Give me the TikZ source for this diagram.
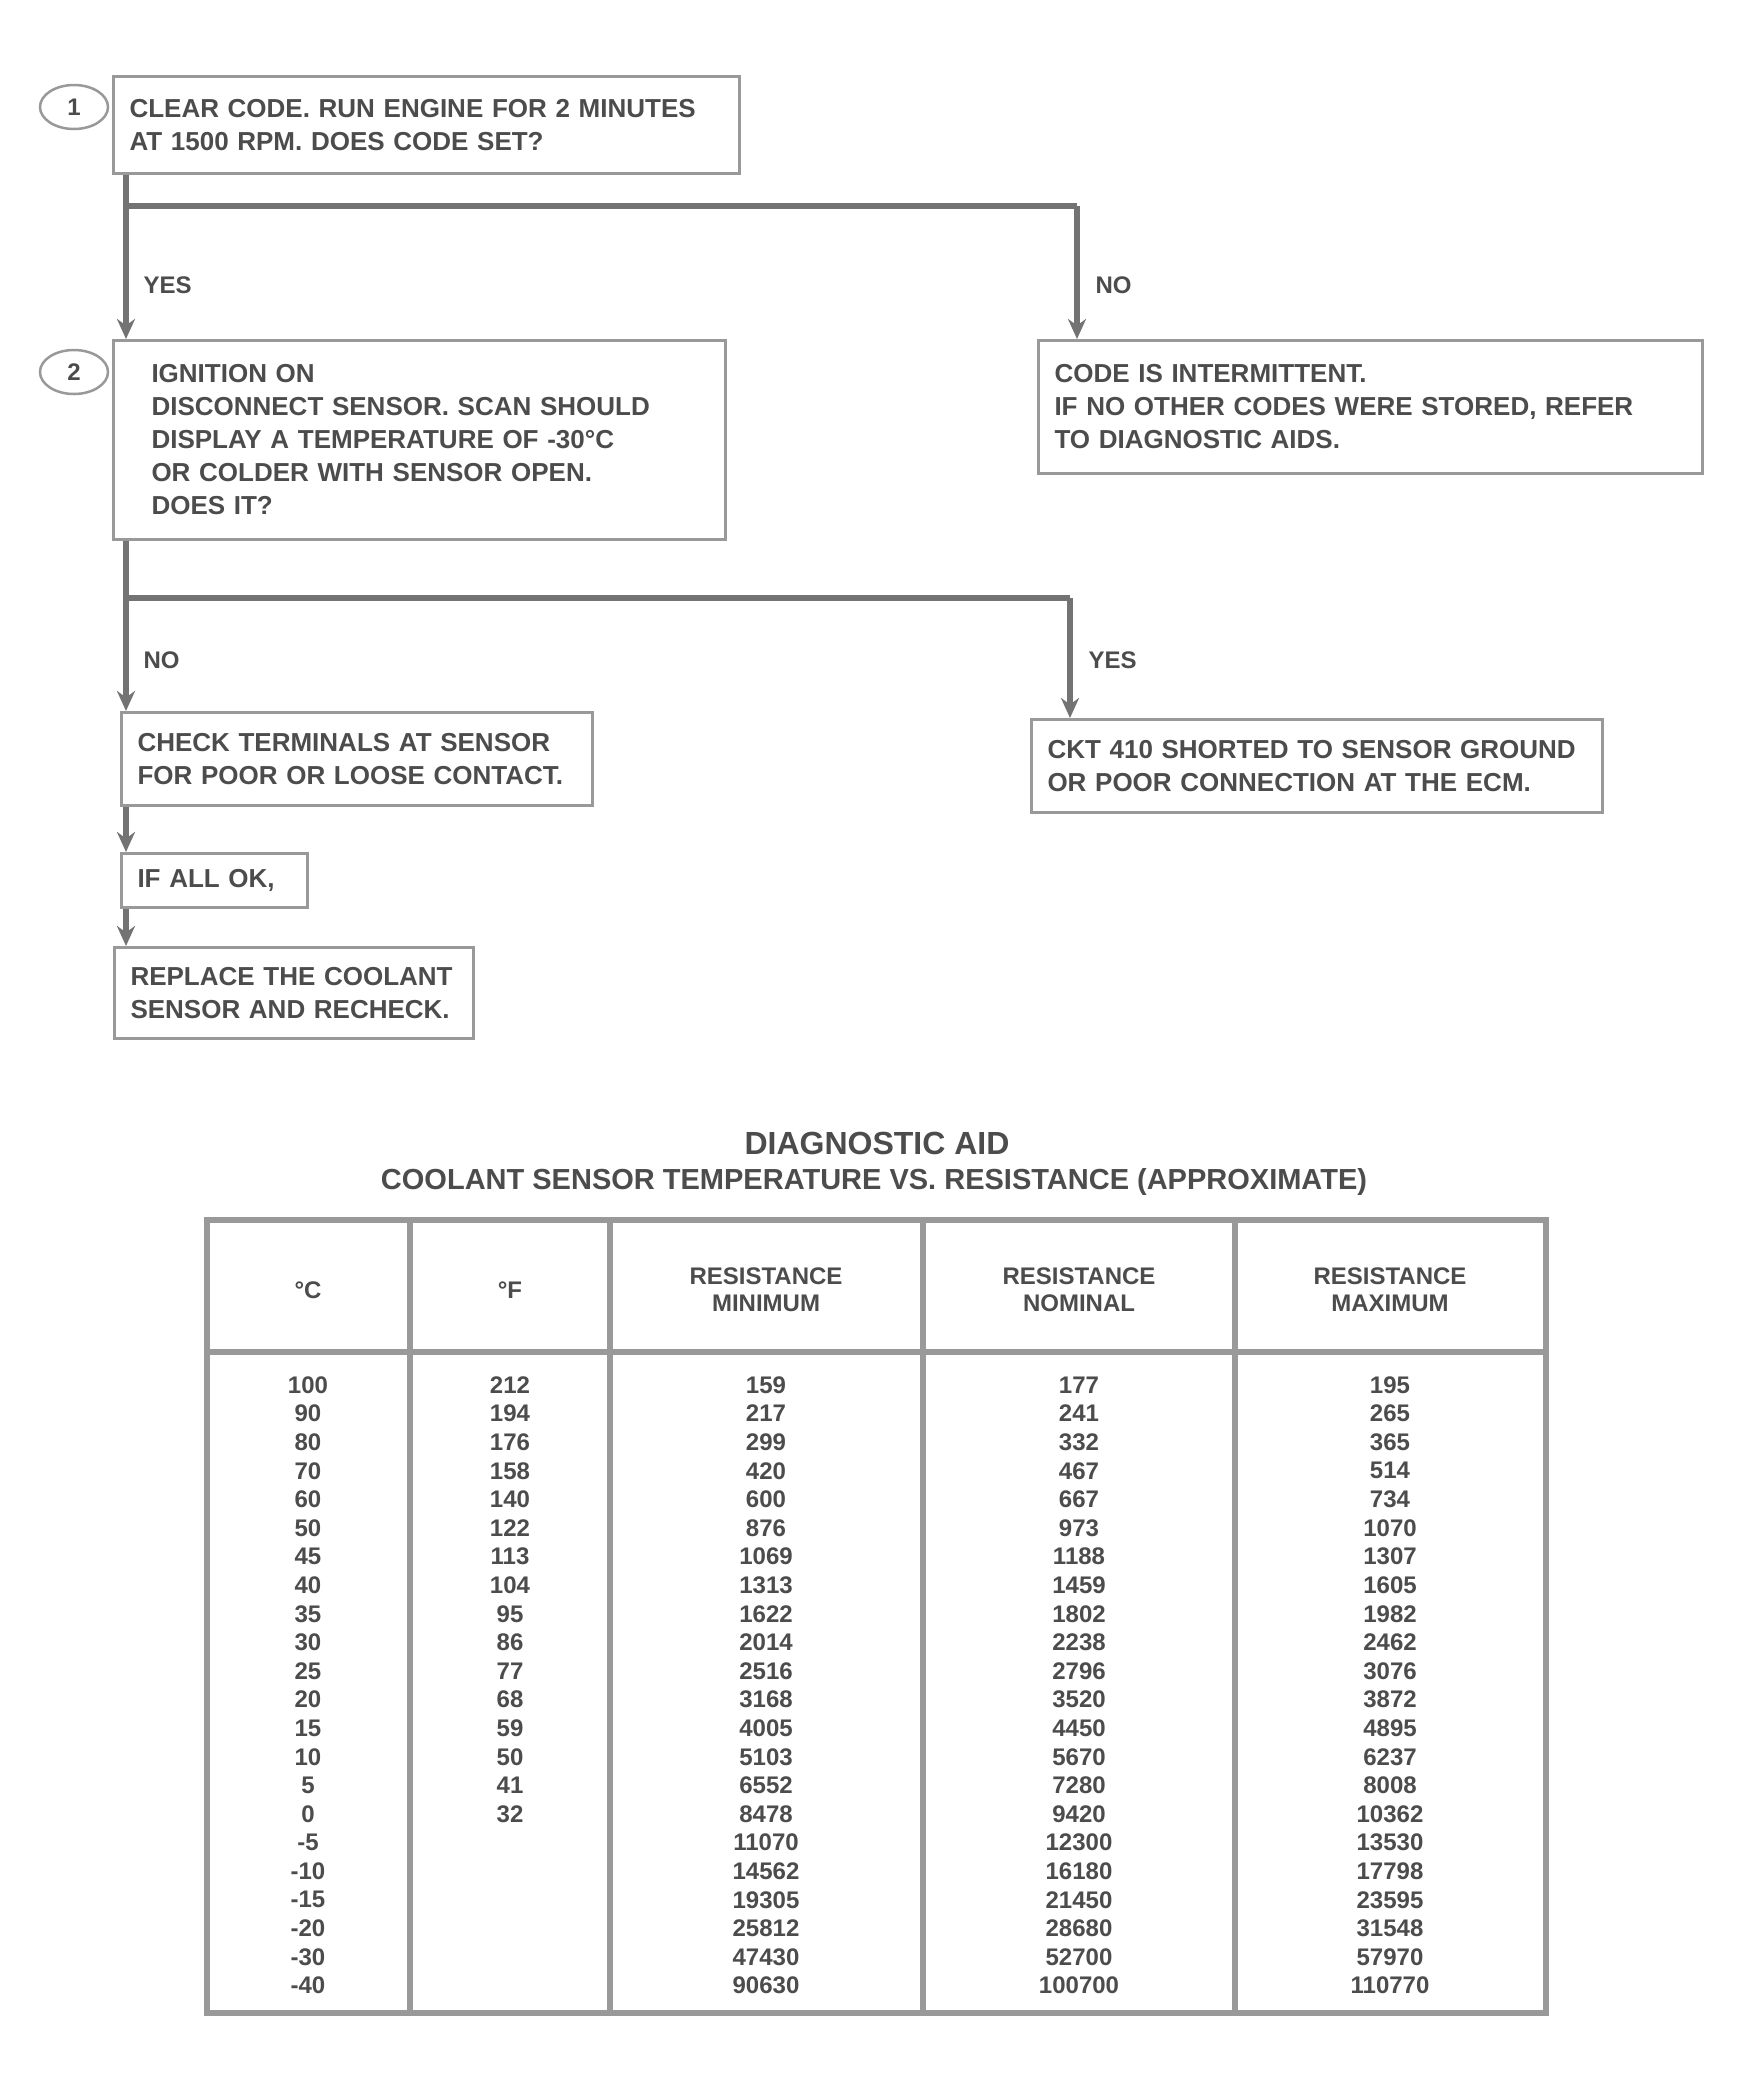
\documentclass[tikz,border=0pt]{standalone}
\usepackage{fontspec}
\setmainfont{Liberation Sans}
\usetikzlibrary{positioning,arrows.meta,shapes.geometric}

\definecolor{inkgray}{gray}{0.3}
\definecolor{boxgray}{gray}{0.6}
\definecolor{linegray}{gray}{0.45}

\begin{document}
\begin{tikzpicture}[x=1pt,y=-1pt,
	stepbox/.style={draw=boxgray,line width=3pt,text=inkgray,align=left,anchor=north west,
		inner xsep=16pt,font=\fontsize{26}{33}\selectfont\bfseries},
	circnum/.style={ellipse,draw=boxgray,line width=2.5pt,text=inkgray,inner sep=2pt,
		minimum width=68pt,minimum height=44pt,font=\fontsize{24}{24}\selectfont\bfseries},
	answer/.style={text=inkgray,anchor=west,font=\fontsize{24}{24}\selectfont\bfseries},
	flow/.style={draw=linegray,line width=6pt},
	flowarrow/.style={flow,-{Stealth[length=20pt,width=18pt]}},
	grid/.style={draw=boxgray,line width=6pt},
	hcell/.style={text=inkgray,align=center,font=\fontsize{24}{27}\selectfont\bfseries},
	cell/.style={text=inkgray,font=\fontsize{24}{24}\selectfont\bfseries}]
	\fill[white] (0,0) rectangle (1741,2089);
	\useasboundingbox (0,0) rectangle (1741,2089);

	% flow chart
	\node[circnum] (n1) at (74,107) {1};
	\node[stepbox,text width=594pt,minimum height=97pt] (check) at (112,75)
		{CLEAR CODE. RUN ENGINE FOR 2 MINUTES\\AT 1500 RPM. DOES CODE SET?};
	\node[circnum] (n2) at (74,372) {2};
	\node[stepbox,inner xsep=38pt,text width=536pt,minimum height=199pt] (jumper) at (112,339)
		{IGNITION ON\\DISCONNECT SENSOR. SCAN SHOULD\\DISPLAY A TEMPERATURE OF -30°C\\OR COLDER WITH SENSOR OPEN.\\DOES IT?};
	\node[stepbox,text width=632pt,minimum height=133pt] (intermit) at (1037,339)
		{CODE IS INTERMITTENT.\\IF NO OTHER CODES WERE STORED, REFER\\TO DIAGNOSTIC AIDS.};
	\node[stepbox,text width=439pt,minimum height=93pt] (terminals) at (120,711)
		{CHECK TERMINALS AT SENSOR\\FOR POOR OR LOOSE CONTACT.};
	\node[stepbox,text width=539pt,minimum height=93pt] (shorted) at (1030,718)
		{CKT 410 SHORTED TO SENSOR GROUND\\OR POOR CONNECTION AT THE ECM.};
	\node[stepbox,text width=154pt,minimum height=54pt] (ifok) at (120,852) {IF ALL OK,};
	\node[stepbox,text width=327pt,minimum height=91pt] (replace) at (113,946)
		{REPLACE THE COOLANT\\SENSOR AND RECHECK.};

	\coordinate (j1) at (126,206);
	\coordinate (k1) at (1077,206);
	\coordinate (j2) at (126,598);
	\coordinate (k2) at (1070,598);
	\draw[flow] (check.south -| j1) -- (j1) -- (k1);
	\draw[flowarrow] (j1) -- (j1 |- jumper.north);
	\draw[flowarrow] (k1) -- (k1 |- intermit.north);
	\node[answer] (yes1) at (140,285) {YES};
	\node[answer] (no1) at (1092,285) {NO};
	\draw[flow] (jumper.south -| j2) -- (j2) -- (k2);
	\draw[flowarrow] (j2) -- (j2 |- terminals.north);
	\draw[flowarrow] (k2) -- (k2 |- shorted.north);
	\node[answer] (no2) at (140,660) {NO};
	\draw[flowarrow] (terminals.south -| j2) -- (ifok.north -| j2);
	\draw[flowarrow] (ifok.south -| j2) -- (replace.north -| j2);
	\node[answer] (yes2) at (1085,660) {YES};

	% table
	\node[text=inkgray,font=\fontsize{32}{34}\selectfont\bfseries] (title) at (877,1143) {DIAGNOSTIC AID};
	\node[text=inkgray,font=\fontsize{29}{30}\selectfont\bfseries] (subtitle) at (874,1182)
		{COOLANT SENSOR TEMPERATURE VS. RESISTANCE (APPROXIMATE)};
	\draw[grid] (207,1220) rectangle (1546,2013);
	\draw[grid] (207,1352) -- (1546,1352);
	\foreach \x in {410,610,923,1235}
		\draw[grid] (\x,1220) -- (\x,2013);
	\node[hcell] (hc) at (308,1290) {°C};
	\node[hcell] (hf) at (510,1290) {°F};
	\node[hcell] (hmin) at (766,1290) {RESISTANCE\\MINIMUM};
	\node[hcell] (hnom) at (1079,1290) {RESISTANCE\\NOMINAL};
	\node[hcell] (hmax) at (1390,1290) {RESISTANCE\\MAXIMUM};
	\foreach \v [count=\i] in {100,90,80,70,60,50,45,40,35,30,25,20,15,10,5,0,-5,-10,-15,-20,-30,-40}
		\node[cell] (c-\i) at (308,{1385+(\i-1)*28.6}) {\v};
	\foreach \v [count=\i] in {212,194,176,158,140,122,113,104,95,86,77,68,59,50,41,32}
		\node[cell] (f-\i) at (510,{1385+(\i-1)*28.6}) {\v};
	\foreach \v [count=\i] in {159,217,299,420,600,876,1069,1313,1622,2014,2516,3168,4005,5103,6552,8478,11070,14562,19305,25812,47430,90630}
		\node[cell] (lo-\i) at (766,{1385+(\i-1)*28.6}) {\v};
	\foreach \v [count=\i] in {177,241,332,467,667,973,1188,1459,1802,2238,2796,3520,4450,5670,7280,9420,12300,16180,21450,28680,52700,100700}
		\node[cell] (mid-\i) at (1079,{1385+(\i-1)*28.6}) {\v};
	\foreach \v [count=\i] in {195,265,365,514,734,1070,1307,1605,1982,2462,3076,3872,4895,6237,8008,10362,13530,17798,23595,31548,57970,110770}
		\node[cell] (hi-\i) at (1390,{1385+(\i-1)*28.6}) {\v};
\end{tikzpicture}
\end{document}
